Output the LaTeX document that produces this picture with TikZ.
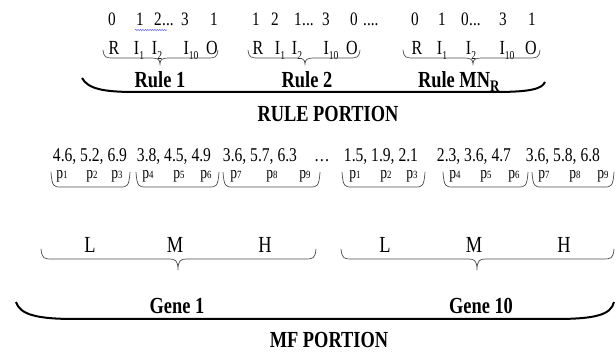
\documentclass[tikz,border=0pt]{standalone}
\usepackage{fontspec}
\setmainfont{Liberation Serif}[FakeStretch=0.8]
\usetikzlibrary{decorations.pathmorphing}
\newcommand{\sbs}[1]{\raisebox{-0.22em}{\fontsize{12}{12}\selectfont #1}}
\newcommand{\psub}[1]{p{\fontsize{11}{11}\selectfont #1}}
% brace with a tip: [style] left, right, tip x, y end, y line, y tip
\newcommand{\brc}[7][thinbrace]{%
  \draw[#1] (#2,#5) .. controls (#2+1,#6) and (#2+3,#6) .. (#2+12,#6) -- (#4-9,#6)
    .. controls (#4-3,#6) and (#4,#6+1) .. (#4,#7)
    .. controls (#4,#6+1) and (#4+3,#6) .. (#4+9,#6) -- (#3-12,#6)
    .. controls (#3-3,#6) and (#3-1,#6) .. (#3,#5);}
% brace without tip: left, right, y end, y line
\newcommand{\ubr}[4]{%
  \draw[thinbrace] (#1,#3) .. controls (#1+1,#4) and (#1+3,#4) .. (#1+10,#4) -- (#2-10,#4)
    .. controls (#2-3,#4) and (#2-1,#4) .. (#2,#3);}
\begin{document}
\begin{tikzpicture}[x=1pt,y=-1pt,
  num/.style={inner sep=0pt, anchor=base, font=\fontsize{19}{21}\selectfont},
  lab/.style={inner sep=0pt, anchor=base, font=\fontsize{20}{22}\selectfont},
  val/.style={inner sep=0pt, anchor=base, font=\fontsize{19.5}{21}\selectfont},
  pl/.style={inner sep=0pt, anchor=base, font=\fontsize{17}{19}\selectfont},
  lmh/.style={inner sep=0pt, anchor=base, font=\fontsize{23}{25}\selectfont},
  bl/.style={inner sep=0pt, anchor=base, font=\bfseries\fontsize{23}{25}\selectfont},
  thinbrace/.style={draw=black!70, line width=0.7pt},
  bigbrace/.style={draw=black, line width=2pt},
  squig/.style={draw=blue!60, line width=0.5pt, decorate, decoration={snake, amplitude=0.7pt, segment length=2.4pt}},
]
\useasboundingbox (0,0) rectangle (616,352);

% ---- top numbers
\node[num] (n11) at (112,26) {0};
\node[num] (n12) at (140,26) {1};
\node[num] (n13) at (158,26) {2};
\node[num,anchor=base west] (n14) at (162,26) {...};
\node[num] (n15) at (185,26) {3};
\node[num] (n16) at (214,26) {1};
\draw[squig] (135,30) -- (167,30);

\node[num] (n21) at (256,26) {1};
\node[num] (n22) at (275,26) {2};
\node[num] (n23) at (298,26) {1};
\node[num,anchor=base west] (n24) at (302,26) {...};
\node[num] (n25) at (326,26) {3};
\node[num] (n26) at (354,26) {0};
\node[num,anchor=base west] (n27) at (363,26) {....};

\node[num] (n31) at (415,26) {0};
\node[num] (n32) at (442,26) {1};
\node[num] (n33) at (465,26) {0};
\node[num,anchor=base west] (n34) at (469,26) {...};
\node[num] (n35) at (503,26) {3};
\node[num] (n36) at (532,26) {1};

% ---- labels
\node[lab] (r1) at (114,55) {R};
\node[lab] (i11) at (139,55) {I\sbs{1}};
\node[lab] (i12) at (157,55) {I\sbs{2}};
\node[lab] (i110) at (191,55) {I\sbs{10}};
\node[lab] (o1) at (212,55) {O};

\node[lab] (r2) at (258,55) {R};
\node[lab] (i21) at (280,55) {I\sbs{1}};
\node[lab] (i22) at (297,55) {I\sbs{2}};
\node[lab] (i210) at (331,55) {I\sbs{10}};
\node[lab] (o2) at (352,55) {O};

\node[lab] (r3) at (417,55) {R};
\node[lab] (i31) at (442,55) {I\sbs{1}};
\node[lab] (i32) at (471,55) {I\sbs{2}};
\node[lab] (i310) at (507,55) {I\sbs{10}};
\node[lab] (o3) at (531,55) {O};

\brc{103}{218}{160}{50}{58}{64}
\brc{248}{360}{305}{50}{58}{64}
\brc{403}{540}{473}{50}{58}{64}

\node[bl] (rule1) at (160,88) {Rule 1};
\node[bl] (rule2) at (307,88) {Rule 2};
\node[bl] (rule3) at (459,88) {Rule MN\textsubscript{R}};

\draw[bigbrace] (82,78) .. controls (88,89) and (104,92) .. (135,92) -- (495,92)
  .. controls (530,92) and (542,89) .. (545,82);

\node[bl] (rp) at (328,122) {RULE PORTION};

% ---- MF values
\node[val] (v1) at (90,162) {4.6, 5.2, 6.9};
\node[val] (v2) at (174,162) {3.8, 4.5, 4.9};
\node[val] (v3) at (260,162) {3.6, 5.7, 6.3};
\node[val] (vd) at (322,162) {\ldots};
\node[val] (v4) at (381,162) {1.5, 1.9, 2.1};
\node[val] (v5) at (474,162) {2.3, 3.6, 4.7};
\node[val] (v6) at (563,162) {3.6, 5.8, 6.8};

% ---- p labels
\node[pl] (p11) at (62,179) {\psub{1}};
\node[pl] (p12) at (92,179) {\psub{2}};
\node[pl] (p13) at (117,179) {\psub{3}};
\node[pl] (p14) at (148,179) {\psub{4}};
\node[pl] (p15) at (179,179) {\psub{5}};
\node[pl] (p16) at (206,179) {\psub{6}};
\node[pl] (p17) at (236,179) {\psub{7}};
\node[pl] (p18) at (272,179) {\psub{8}};
\node[pl] (p19) at (305,179) {\psub{9}};
\node[pl] (p21) at (355,179) {\psub{1}};
\node[pl] (p22) at (386,179) {\psub{2}};
\node[pl] (p23) at (412,179) {\psub{3}};
\node[pl] (p24) at (455,179) {\psub{4}};
\node[pl] (p25) at (486,179) {\psub{5}};
\node[pl] (p26) at (514,179) {\psub{6}};
\node[pl] (p27) at (544,179) {\psub{7}};
\node[pl] (p28) at (575,179) {\psub{8}};
\node[pl] (p29) at (603,179) {\psub{9}};

\ubr{51}{130}{172}{187}
\ubr{136}{219}{172}{187}
\ubr{223}{320}{172}{187}
\ubr{342}{425}{172}{187}
\ubr{443}{528}{172}{187}
\ubr{532}{614}{172}{187}

% ---- L M H
\node[lmh] (l1) at (90,253) {L};
\node[lmh] (m1) at (175,253) {M};
\node[lmh] (h1) at (265,253) {H};
\node[lmh] (l2) at (385,253) {L};
\node[lmh] (m2) at (474,253) {M};
\node[lmh] (h2) at (564,253) {H};

\brc{41}{316}{178}{249}{259}{270}
\brc{341}{614}{477}{249}{259}{270}

\node[bl] (g1) at (177,314) {Gene 1};
\node[bl] (g10) at (481,314) {Gene 10};

\draw[bigbrace] (16,302) .. controls (20,315) and (38,319) .. (75,319) -- (555,319)
  .. controls (595,319) and (611,315) .. (614,302);

\node[bl] (mf) at (329,348) {MF PORTION};
\end{tikzpicture}
\end{document}
